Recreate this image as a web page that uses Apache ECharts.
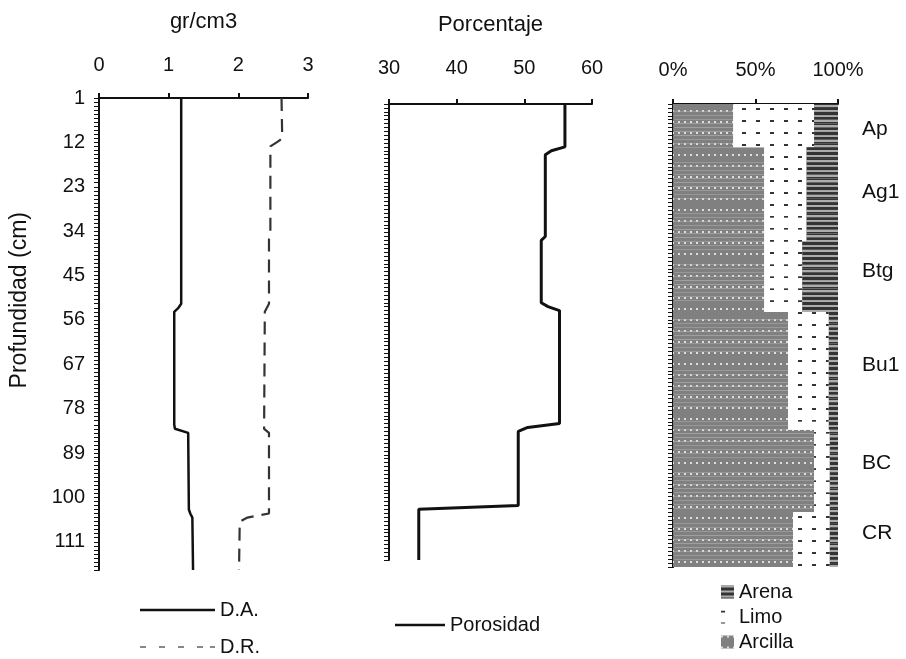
<!DOCTYPE html>
<html><head><meta charset="utf-8">
<script src="https://cdn.jsdelivr.net/npm/echarts@6/dist/echarts.min.js"></script>
<style>html,body{margin:0;padding:0;background:#fff}#c{width:906px;height:659px}</style>
</head><body><div id="c"></div>
<script>
// Depth axis (cm), one category per cm
const depthCount = 118;
const depthTickLabels = ['1','12','23','34','45','56','67','78','89','100','111'];

// Left panel: densities (gr/cm3), breakpoints of the step lines
const daDepth = [1, 52, 53, 54, 82, 83, 84, 103, 104, 105, 118];
const daValue = [1.18, 1.18, 1.14, 1.08, 1.08, 1.09, 1.28, 1.29, 1.31, 1.34, 1.35];
const drDepth = [1, 11, 12, 13, 35, 36, 52, 53, 54, 83, 84, 104, 105, 106, 118];
const drValue = [2.62, 2.63, 2.55, 2.46, 2.46, 2.44, 2.44, 2.41, 2.38, 2.37, 2.44, 2.44, 2.13, 2.02, 2.01];

// Middle panel: porosity (%)
const porDepth = [1, 12, 13, 14, 35, 36, 52, 53, 54, 83, 84, 85, 104, 105, 118];
const porValue = [56, 56, 54, 53.1, 53.1, 52.5, 52.5, 53.5, 55.2, 55.2, 50.5, 49.1, 49.1, 34.4, 34.4];

// Right panel: texture per horizon (%)
const horizonNames = ['Ap', 'Ag1', 'Btg', 'Bu1', 'BC', 'CR'];
const horizonTop = [1, 12, 36, 54, 84, 105];
const horizonBottom = [11, 35, 53, 83, 104, 118];
const horizonLabelDepth = [7, 23, 43, 67, 92, 110];
const arcilla = [36.5, 55.3, 55.3, 69.8, 85.5, 72.8];
const limo = [49.0, 25.6, 23.0, 24.6, 9.5, 22.2];
const arena = [14.5, 19.1, 21.7, 5.6, 5.0, 5.0];

const gTicks = [0, 3, 1];     // min, max, interval
const pTicks = [30, 60, 10];
const tTicks = [0, 100, 50];

// ---- build library data ----
const cats = [];
for (let d = 1; d <= depthCount; d++) cats.push(String(d));
function expand(vals) {
  const out = [];
  for (let d = 1; d <= depthCount; d++) {
    let v = null;
    for (let h = 0; h < horizonNames.length; h++) {
      if (d >= horizonTop[h] && d <= horizonBottom[h]) v = vals[h];
    }
    out.push(v);
  }
  return out;
}
const pairs = (dep, val) => dep.map((d, i) => [val[i], String(d)]);
const labelMap = {};
horizonLabelDepth.forEach((d, i) => { labelMap[String(d)] = horizonNames[i]; });

const FONT = 'Liberation Sans';
const txt = { color: '#111', fontFamily: FONT, fontSize: 20 };
const black = { color: '#111', width: 2 };

function depthAxis(grid, showLabels) {
  return {
    type: 'category', gridIndex: grid, data: cats, inverse: true,
    boundaryGap: grid === 2,
    axisLine: { show: true, lineStyle: black, onZero: false },
    axisTick: { show: true, interval: 0, length: 5, lineStyle: { color: '#111', width: 1 } },
    axisLabel: showLabels ? {
      show: true, interval: (i, v) => depthTickLabels.includes(v), margin: 14,
      ...txt, fontSize: 20
    } : { show: false },
    splitLine: { show: false }
  };
}
function topAxis(grid, t, name, gap, margin, fmt) {
  return {
    type: 'value', gridIndex: grid, position: 'top',
    min: t[0], max: t[1], interval: t[2],
    name: name, nameLocation: 'middle', nameGap: gap,
    nameTextStyle: { ...txt, fontSize: 22 },
    axisLine: { show: true, lineStyle: black, onZero: false },
    axisTick: { show: true, length: 5, lineStyle: { color: '#111', width: 2 } },
    axisLabel: { ...txt, fontSize: 20, margin: margin, formatter: fmt || '{value}' },
    splitLine: { show: false }
  };
}
const dashIcon = 'path://M0,0h6v1h-6z M19,0h6v1h-6z M38,0h6v1h-6z M57,0h6v1h-6z M70,0h5v1h-5z';
function legendItem(name, left, centerY, w, h, icon, color) {
  const l = {
    data: [name], left: left, top: centerY - 11, itemWidth: w, itemHeight: h, icon: icon,
    textStyle: { ...txt, lineHeight: 22 }, padding: 0, itemGap: 0
  };
  if (color) l.itemStyle = { color: color };
  return l;
}

const chart = echarts.init(document.getElementById('c'), null, { renderer: 'canvas' });
chart.setOption({
  animation: false,
  backgroundColor: '#fff',
  grid: [
    { left: 99, top: 98, width: 209, height: 472 },
    { left: 389, top: 104, width: 203, height: 456 },
    { left: 673, top: 104, width: 165, height: 463 }
  ],
  xAxis: [
    topAxis(0, gTicks, 'gr/cm3', 65, 23),
    topAxis(1, pTicks, 'Porcentaje', 68, 26),
    topAxis(2, tTicks, '', 0, 24, '{value}%')
  ],
  yAxis: [
    depthAxis(0, true),
    depthAxis(1, false),
    depthAxis(2, false),
    {
      type: 'category', gridIndex: 2, data: cats, inverse: true, position: 'right',
      axisLine: { show: true, lineStyle: black },
      axisTick: { show: false },
      axisLabel: { show: true, interval: (i, v) => v in labelMap, formatter: v => labelMap[v] || '', margin: 24, ...txt, fontSize: 21 }
    }
  ],
  legend: [
    legendItem('D.A.', 140, 610, 75, 2.5, 'rect'),
    legendItem('D.R.', 140, 647, 75, 2.5, dashIcon, '#111'),
    legendItem('Porosidad', 395, 625, 50, 2.5, 'rect'),
    legendItem('Arena', 721, 592, 13, 13, 'rect'),
    legendItem('Limo', 721, 617, 13, 13, 'rect'),
    legendItem('Arcilla', 721, 642, 13, 13, 'rect')
  ],
  graphic: [
    { type: 'text', left: 8, top: 212, rotation: Math.PI / 2, style: { text: 'Profundidad (cm)', fill: '#111', font: '23px "Liberation Sans"' }, originX: 0, originY: 0 }
  ],
  series: [
    { name: 'D.A.', type: 'line', xAxisIndex: 0, yAxisIndex: 0, data: pairs(daDepth, daValue), symbol: 'none',
      lineStyle: { color: '#111', width: 2.5 }, itemStyle: { color: '#111' } },
    { name: 'D.R.', type: 'line', xAxisIndex: 0, yAxisIndex: 0, data: pairs(drDepth, drValue), symbol: 'none',
      lineStyle: { color: '#333', width: 2.2, type: [13, 8] }, itemStyle: { color: '#333' } },
    { name: 'Porosidad', type: 'line', xAxisIndex: 1, yAxisIndex: 1, data: pairs(porDepth, porValue), symbol: 'none',
      lineStyle: { color: '#111', width: 3 }, itemStyle: { color: '#111' } },
    { name: 'Arcilla', type: 'bar', stack: 'tex', xAxisIndex: 2, yAxisIndex: 2, data: expand(arcilla), barCategoryGap: '0%',
      itemStyle: { color: '#808080', decal: { symbol: 'rect', symbolSize: 1, color: 'rgba(255,255,255,0.75)', dashArrayX: [2, 4], dashArrayY: [2, 9] } } },
    { name: 'Limo', type: 'bar', stack: 'tex', xAxisIndex: 2, yAxisIndex: 2, data: expand(limo), barCategoryGap: '0%',
      itemStyle: { color: '#ffffff', decal: { symbol: 'rect', symbolSize: 1, color: '#333', dashArrayX: [4, 10], dashArrayY: [1.5, 10] } } },
    { name: 'Arena', type: 'bar', stack: 'tex', xAxisIndex: 2, yAxisIndex: 2, data: expand(arena), barCategoryGap: '0%',
      itemStyle: { color: '#333', decal: { symbol: 'rect', symbolSize: 1, color: 'rgba(255,255,255,0.6)', dashArrayX: [1, 0], dashArrayY: [1.5, 2.5] } } }
  ]
});
</script>
</body></html>
